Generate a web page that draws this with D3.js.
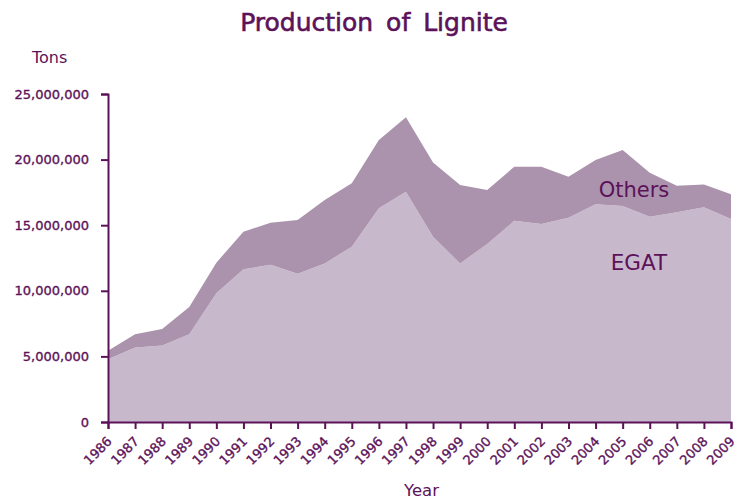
<!DOCTYPE html>
<html>
<head>
<meta charset="utf-8">
<script src="https://cdn.jsdelivr.net/npm/d3@7"></script>
<style>
  body { margin: 0; background: #fff; }
  text { fill: #5c1259; }
</style>
</head>
<body>
<script>
let years = [1986, 1987, 1988, 1989, 1990, 1991, 1992, 1993, 1994, 1995, 1996, 1997,
             1998, 1999, 2000, 2001, 2002, 2003, 2004, 2005, 2006, 2007, 2008, 2009];
let egat = [4780000, 5670000, 5840000, 6680000, 9810000, 11640000, 11990000, 11300000,
            12090000, 13360000, 16290000, 17550000, 14120000, 12090000, 13570000, 15340000,
            15090000, 15570000, 16590000, 16460000, 15650000, 15980000, 16360000, 15470000];
let others = [650000, 1010000, 1250000, 2090000, 2330000, 2870000, 3200000, 4100000,
              4830000, 4830000, 5200000, 5670000, 5650000, 5970000, 4110000, 4120000,
              4370000, 3130000, 3380000, 4270000, 3350000, 2030000, 1750000, 1880000];
let yTicks = [0, 5000000, 10000000, 15000000, 20000000, 25000000];
let seriesNames = ['EGAT', 'Others'];

let width = 736, height = 499;
let padLeft = 108, padRight = 731, padTop = 94, padBottom = 422;
let ink = '#5c1259';
let font = '"DejaVu Sans", sans-serif';

let svg = d3.select('body').append('svg')
  .attr('width', width)
  .attr('height', height);

let data = years.map((y, i) => ({ year: y, EGAT: egat[i], Others: others[i] }));
let stacked = d3.stack().keys(seriesNames)(data);

let xScale = d3.scaleLinear().domain([years[0], years[years.length - 1]]).range([padLeft, padRight]);
let yScale = d3.scaleLinear().domain([0, 25000000]).range([padBottom, padTop]);

let area = d3.area()
  .x(d => xScale(d.data.year))
  .y0(d => yScale(d[0]))
  .y1(d => yScale(d[1]));

let fills = { EGAT: '#c8b8cc', Others: '#ab93ad' };

svg.selectAll('path.layer')
  .data(stacked)
  .enter()
  .append('path')
  .attr('class', 'layer')
  .attr('d', area)
  .attr('fill', d => fills[d.key]);

// axes
let yAxis = d3.axisLeft(yScale).tickValues(yTicks).tickSize(7).tickPadding(12)
  .tickFormat(d3.format(','));
let gy = svg.append('g').attr('transform', 'translate(' + padLeft + ',0)').call(yAxis);
gy.selectAll('text').style('font-family', font).style('font-size', '13px')
  .attr('fill', ink).attr('stroke', ink).attr('stroke-width', 0.35);

let xAxis = d3.axisBottom(xScale).tickValues(years).tickSize(7).tickFormat(d => d);
let gx = svg.append('g').attr('transform', 'translate(0,' + padBottom + ')').call(xAxis);
gx.selectAll('text')
  .style('font-family', font).style('font-size', '13px')
  .attr('fill', ink).attr('stroke', ink).attr('stroke-width', 0.35)
  .attr('text-anchor', 'end')
  .attr('x', 0).attr('y', 0).attr('dy', '0.35em')
  .attr('transform', 'translate(1,17) rotate(-45)');

[gx, gy].forEach(g => {
  g.select('.domain').attr('stroke', ink).attr('stroke-width', 2);
  g.selectAll('.tick line').attr('stroke', ink).attr('stroke-width', 2);
});

// titles
svg.append('text').attr('x', 374).attr('y', 31).attr('text-anchor', 'middle')
  .style('font-family', font).style('font-size', '25px')
  .style('word-spacing', '5px').attr('fill', ink)
  .attr('stroke', ink).attr('stroke-width', 0.6)
  .text('Production of Lignite');

svg.append('text').attr('x', 32).attr('y', 63)
  .style('font-family', font).style('font-size', '16px').attr('fill', ink)
  .text('Tons');

svg.append('text').attr('x', 404).attr('y', 496)
  .style('font-family', font).style('font-size', '16.5px').attr('fill', ink)
  .text('Year');

// series labels
svg.append('text').attr('x', 634).attr('y', 197).attr('text-anchor', 'middle')
  .style('font-family', font).style('font-size', '21px').attr('fill', ink)
  .text('Others');
svg.append('text').attr('x', 639).attr('y', 270).attr('text-anchor', 'middle')
  .style('font-family', font).style('font-size', '21.5px').attr('fill', ink)
  .text('EGAT');
</script>
</body>
</html>
